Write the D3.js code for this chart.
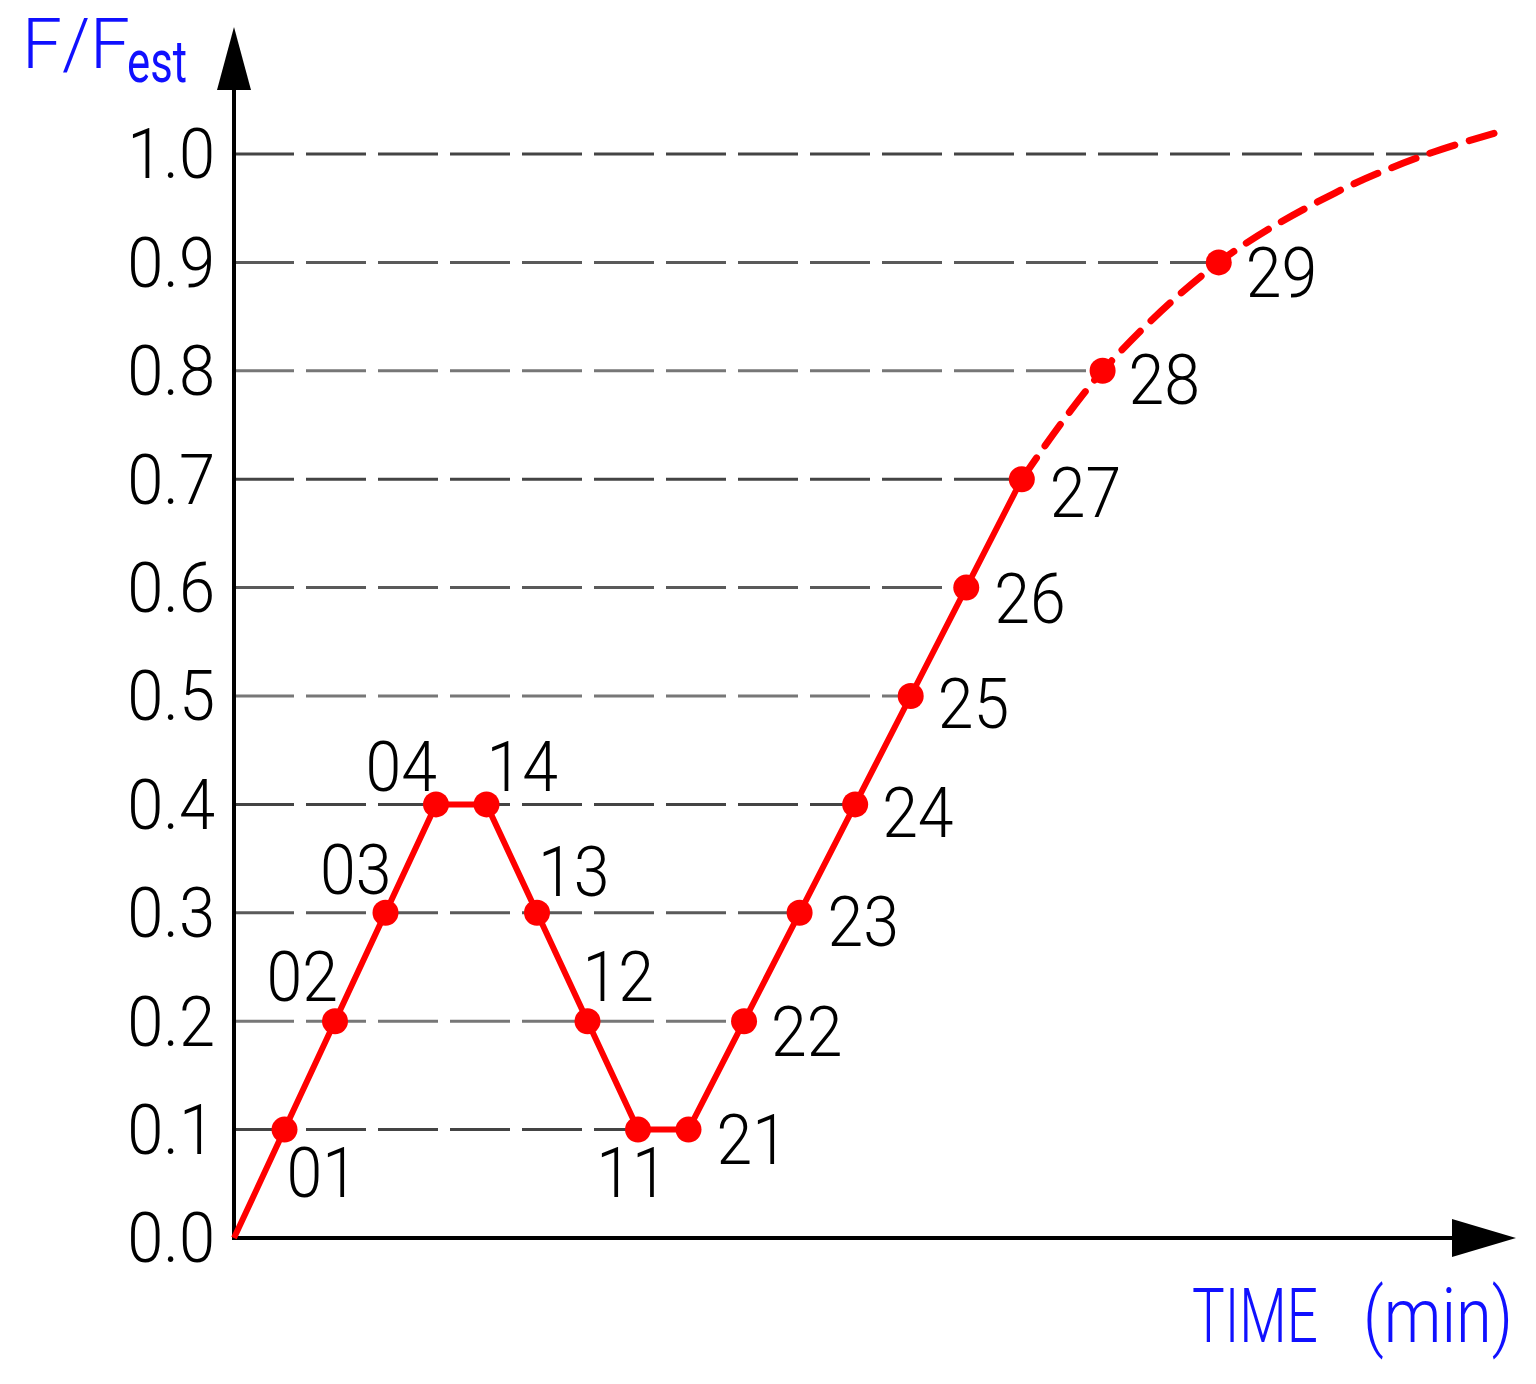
<!DOCTYPE html>
<html>
<head>
<meta charset="utf-8">
<script src="https://cdn.jsdelivr.net/npm/d3@7"></script>
<style>
  html, body { margin: 0; padding: 0; background: #fff; }
  svg { display: block; }
</style>
</head>
<body>
<svg id="chart" width="1536" height="1384"></svg>
<script>
// ---------- DATA ----------
const pointNames  = ["01","02","03","04","14","13","12","11","21","22","23","24","25","26","27","28","29"];
const pointTimes  = [1, 2, 3, 4, 5, 6, 7, 8, 9, 10.1, 11.2, 12.3, 13.4, 14.5, 15.6, 17.2, 19.5];
const pointValues = [0.1, 0.2, 0.3, 0.4, 0.4, 0.3, 0.2, 0.1, 0.1, 0.2, 0.3, 0.4, 0.5, 0.6, 0.7, 0.8, 0.9];
// solid part runs from origin up to point 27
const solidTimes  = [0, 1, 2, 3, 4, 5, 6, 7, 8, 9, 10.1, 11.2, 12.3, 13.4, 14.5, 15.6];
const solidValues = [0, 0.1, 0.2, 0.3, 0.4, 0.4, 0.3, 0.2, 0.1, 0.1, 0.2, 0.3, 0.4, 0.5, 0.6, 0.7];
// dashed (extrapolated) part from point 27 onward
const dashTimes   = [15.6, 17.2, 19.5, 21.8, 23.64, 25.1];
const dashValues  = [0.7, 0.8, 0.9, 0.964, 1.0, 1.021];
const yTicks      = [0.0, 0.1, 0.2, 0.3, 0.4, 0.5, 0.6, 0.7, 0.8, 0.9, 1.0];
const yTitleMain  = "F/F";
const yTitleSub   = "est";
const xTitleA     = "TIME";
const xTitleB     = "(min)";

// ---------- LAYOUT ----------
const svg = d3.select("#chart");
const x = d3.scaleLinear().domain([0, 25]).range([234, 234 + 25 * 50.5]);
const y = d3.scaleLinear().domain([0, 1]).range([1238, 154]);
const RED = "#ff0000";
const BLUE = "#1010ff";
const NUMFONT = "Roboto, 'Liberation Sans', Arial, sans-serif";

// label placement (layout only)
const labelPlace = {
  "01": {dx: 2,  dy: 67, a: "start"},
  "02": {dx: 3,  dy: -20, a: "end"},
  "03": {dx: 6,  dy: -19, a: "end"},
  "04": {dx: 1,  dy: -13, a: "end"},
  "14": {dx: 0,  dy: -13, a: "start"},
  "13": {dx: 1,  dy: -17, a: "start"},
  "12": {dx: -5, dy: -20, a: "start"},
  "11": {dx: -6, dy: 67, a: "middle"},
  "21": {dx: 28, dy: 34, a: "start"},
  "22": {dx: 27, dy: 35, a: "start"},
  "23": {dx: 28, dy: 33, a: "start"},
  "24": {dx: 27, dy: 33, a: "start"},
  "25": {dx: 27, dy: 32, a: "start"},
  "26": {dx: 28, dy: 35, a: "start"},
  "27": {dx: 28, dy: 38, a: "start"},
  "28": {dx: 26, dy: 33, a: "start"},
  "29": {dx: 27, dy: 35, a: "start"}
};

// ---------- GRID LINES (end at last point on that level) ----------
const allT = pointTimes.concat(dashTimes);
const allV = pointValues.concat(dashValues);
const gridData = yTicks.filter(v => v > 0).map(v => {
  let end = 0;
  allV.forEach((val, i) => { if (Math.abs(val - v) < 1e-6) end = Math.max(end, allT[i]); });
  return {v, end};
});
svg.append("g").selectAll("line").data(gridData).enter().append("line")
  .attr("x1", x(0)).attr("x2", d => x(d.end))
  .attr("y1", d => y(d.v)).attr("y2", d => y(d.v))
  .attr("stroke", (d, i) => (i % 3 === 0 ? "#444" : (i % 3 === 1 ? "#777" : "#5a5a5a")))
  .attr("stroke-width", 3)
  .attr("stroke-dasharray", "60,12");

// ---------- AXES ----------
const yAxis = d3.axisLeft(y).tickValues(yTicks).tickFormat(d3.format(".1f")).tickSize(0).tickPadding(19);
const gy = svg.append("g").attr("transform", `translate(${x(0)},0)`).call(yAxis);
gy.select(".domain").remove();
gy.selectAll("text")
  .attr("font-family", NUMFONT)
  .attr("font-weight", 300)
  .attr("font-size", 70)
  .attr("fill", "#000")
  .attr("dy", "0.34em")
  .each(function() {
    const w = this.getComputedTextLength();
    d3.select(this).attr("textLength", w * 0.93).attr("lengthAdjust", "spacingAndGlyphs");
  });

// axis lines with arrows
svg.append("line").attr("x1", x(0)).attr("x2", x(0)).attr("y1", y(0) + 1).attr("y2", 88)
  .attr("stroke", "#000").attr("stroke-width", 4);
svg.append("path").attr("d", `M${x(0)},27 L${x(0) - 17},90 L${x(0) + 17},90 Z`).attr("fill", "#000");
svg.append("line").attr("x1", x(0) - 2).attr("x2", 1455).attr("y1", y(0)).attr("y2", y(0))
  .attr("stroke", "#000").attr("stroke-width", 4);
svg.append("path").attr("d", `M1516,${y(0)} L1452,${y(0) - 19} L1452,${y(0) + 19} Z`).attr("fill", "#000");

// ---------- SERIES ----------
const solidData = solidTimes.map((t, i) => [t, solidValues[i]]);
const dashData  = dashTimes.map((t, i) => [t, dashValues[i]]);
svg.append("path")
  .attr("d", d3.line().x(d => x(d[0])).y(d => y(d[1]))(solidData))
  .attr("fill", "none").attr("stroke", RED).attr("stroke-width", 6).attr("stroke-linejoin", "round");
svg.append("path")
  .attr("d", d3.line().curve(d3.curveCatmullRom.alpha(0.5)).x(d => x(d[0])).y(d => y(d[1]))(dashData))
  .attr("fill", "none").attr("stroke", RED).attr("stroke-width", 7)
  .attr("stroke-dasharray", "26,15").attr("stroke-linecap", "round");

const pts = pointNames.map((n, i) => ({n, t: pointTimes[i], v: pointValues[i]}));
svg.append("g").selectAll("circle").data(pts).enter().append("circle")
  .attr("cx", d => x(d.t)).attr("cy", d => y(d.v)).attr("r", 13).attr("fill", RED);

svg.append("g").selectAll("text").data(pts).enter().append("text")
  .attr("x", d => x(d.t) + labelPlace[d.n].dx)
  .attr("y", d => y(d.v) + labelPlace[d.n].dy)
  .attr("text-anchor", d => labelPlace[d.n].a)
  .attr("font-family", NUMFONT).attr("font-weight", 300).attr("font-size", 70)
  .attr("fill", "#000")
  .text(d => d.n)
  .each(function() {
    const w = this.getComputedTextLength();
    d3.select(this).attr("textLength", w * 0.92).attr("lengthAdjust", "spacingAndGlyphs");
  });

// ---------- TITLES ----------
svg.append("text").attr("x", 22).attr("y", 68)
  .attr("font-family", NUMFONT).attr("font-weight", 300).attr("font-size", 70).attr("fill", BLUE)
  .attr("textLength", 108).attr("lengthAdjust", "spacingAndGlyphs")
  .text(yTitleMain);
svg.append("text").attr("x", 127).attr("y", 82)
  .attr("font-family", NUMFONT).attr("font-weight", 400).attr("font-size", 60).attr("fill", BLUE)
  .attr("textLength", 60).attr("lengthAdjust", "spacingAndGlyphs")
  .text(yTitleSub);

// x title: horizontally condensed via transform so the box stays inside the page
function condensedText(str, x0, y0, targetW, size) {
  const t = svg.append("text")
    .attr("font-family", NUMFONT).attr("font-weight", 300).attr("font-size", size).attr("fill", BLUE)
    .text(str);
  const w = t.node().getComputedTextLength();
  t.attr("transform", `translate(${x0},${y0}) scale(${targetW / w},1)`);
}
condensedText(xTitleA, 1192, 1342, 126, 76);
condensedText(xTitleB, 1363, 1342, 150, 76);
</script>
</body>
</html>
